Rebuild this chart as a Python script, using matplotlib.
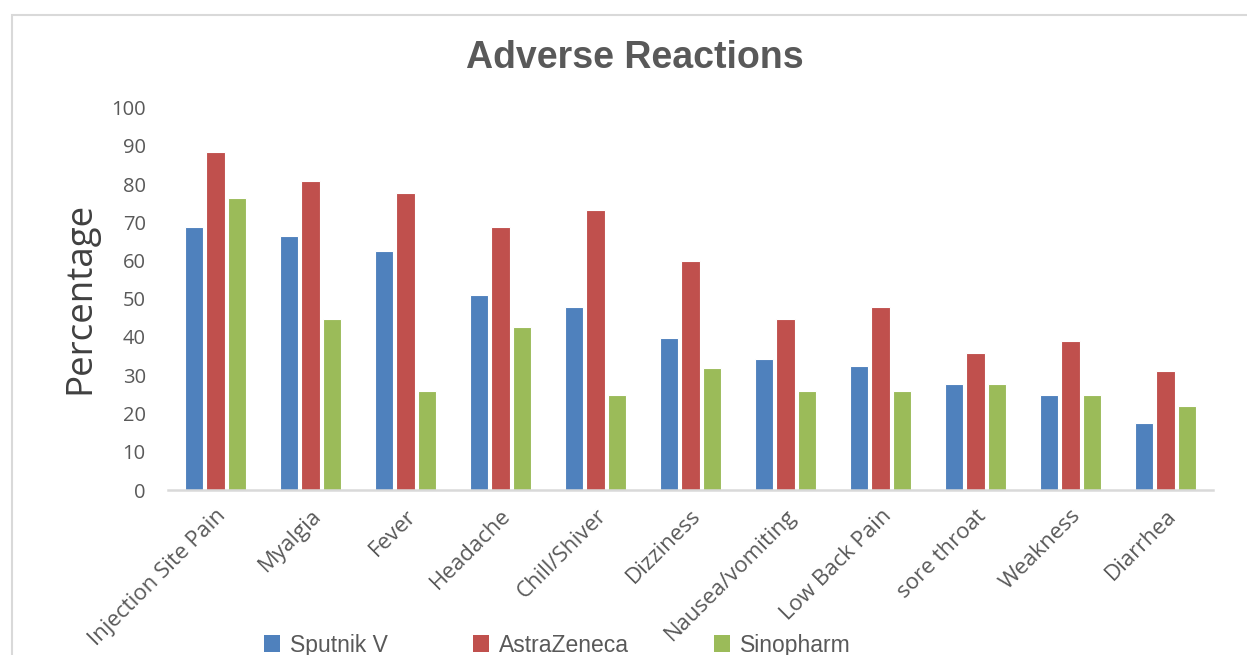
import numpy as np
import matplotlib.pyplot as plt
from matplotlib.patches import Rectangle
from matplotlib.transforms import ScaledTranslation

# Data
categories = ['Injection Site Pain', 'Myalgia', 'Fever', 'Headache', 'Chill/Shiver',
              'Dizziness', 'Nausea/vomiting', 'Low Back Pain', 'sore throat',
              'Weakness', 'Diarrhea']
sputnik = [68.7, 66.5, 62.5, 51.0, 47.8, 39.7, 34.3, 32.3, 27.6, 24.9, 17.6]
astrazeneca = [88.3, 80.7, 77.7, 68.8, 73.2, 59.8, 44.8, 47.9, 35.9, 38.9, 31.2]
sinopharm = [76.4, 44.7, 25.8, 42.7, 24.9, 31.8, 25.8, 25.8, 27.7, 24.9, 21.9]
yticks = [0, 10, 20, 30, 40, 50, 60, 70, 80, 90, 100]

W, H = 1247, 655
fig = plt.figure(figsize=(W / 100, H / 100), dpi=100)

# chart border (only left and top are visible in the crop)
fig.patches.append(Rectangle((12 / W, -0.1), 1.2, (H - 15) / H + 0.1,
                             transform=fig.transFigure, fill=False,
                             edgecolor='#D9D9D9', linewidth=1.5))

ax = fig.add_axes([168 / W, (H - 490) / H, (1213 - 168) / W, (490 - 107.5) / H])

x = np.arange(len(categories))
step = 0.222
bw = 0.19
ax.bar(x - step, sputnik, bw, color='#4F81BD', edgecolor='white', linewidth=0.8, label='Sputnik V')
ax.bar(x, astrazeneca, bw, color='#C0504D', edgecolor='white', linewidth=0.8, label='AstraZeneca')
ax.bar(x + step, sinopharm, bw, color='#9BBB59', edgecolor='white', linewidth=0.8, label='Sinopharm')

ax.set_xlim(-0.5, len(categories) - 0.5)
ax.set_ylim(0, 100)
ax.set_yticks(yticks)
ax.set_yticklabels([str(v) for v in yticks], fontsize=14.5, color='#595959', family='Open Sans')
ax.set_xticks(x)
ax.set_xticklabels(categories, rotation=45, ha='right', rotation_mode='anchor',
                   fontsize=16, color='#595959', family='Open Sans')
offset = ScaledTranslation(8 / 72, 0, fig.dpi_scale_trans)
for lbl in ax.get_xticklabels():
    lbl.set_transform(lbl.get_transform() + offset)
ax.tick_params(axis='both', length=0)
ax.tick_params(axis='y', pad=16)
ax.tick_params(axis='x', pad=11)

for s in ['top', 'right', 'left']:
    ax.spines[s].set_visible(False)
ax.spines['bottom'].set_color('#D9D9D9')
ax.spines['bottom'].set_linewidth(1.8)

fig.text(635 / W, 1 - 58 / H, 'Adverse Reactions', ha='center', va='center',
         fontsize=27, fontweight='bold', color='#595959', family='Liberation Sans')
fig.text(80 / W, 1 - 298 / H, 'Percentage', rotation=90, ha='center', va='center',
         fontsize=26.5, color='#404040', family='Open Sans')

handles, labels = ax.get_legend_handles_labels()
leg = fig.legend(handles, labels, loc='upper left', bbox_to_anchor=(243 / W, 1 - 613 / H),
                 ncol=3, frameon=False, handlelength=0.7, handleheight=0.8,
                 handletextpad=0.45, columnspacing=3.7,
                 prop={'family': ['Liberation Sans Narrow', 'Liberation Sans'], 'size': 16.5})
for t in leg.get_texts():
    t.set_color('#595959')
for h in leg.legend_handles:
    h.set_edgecolor('none')

fig.savefig('out.png', dpi=100)
